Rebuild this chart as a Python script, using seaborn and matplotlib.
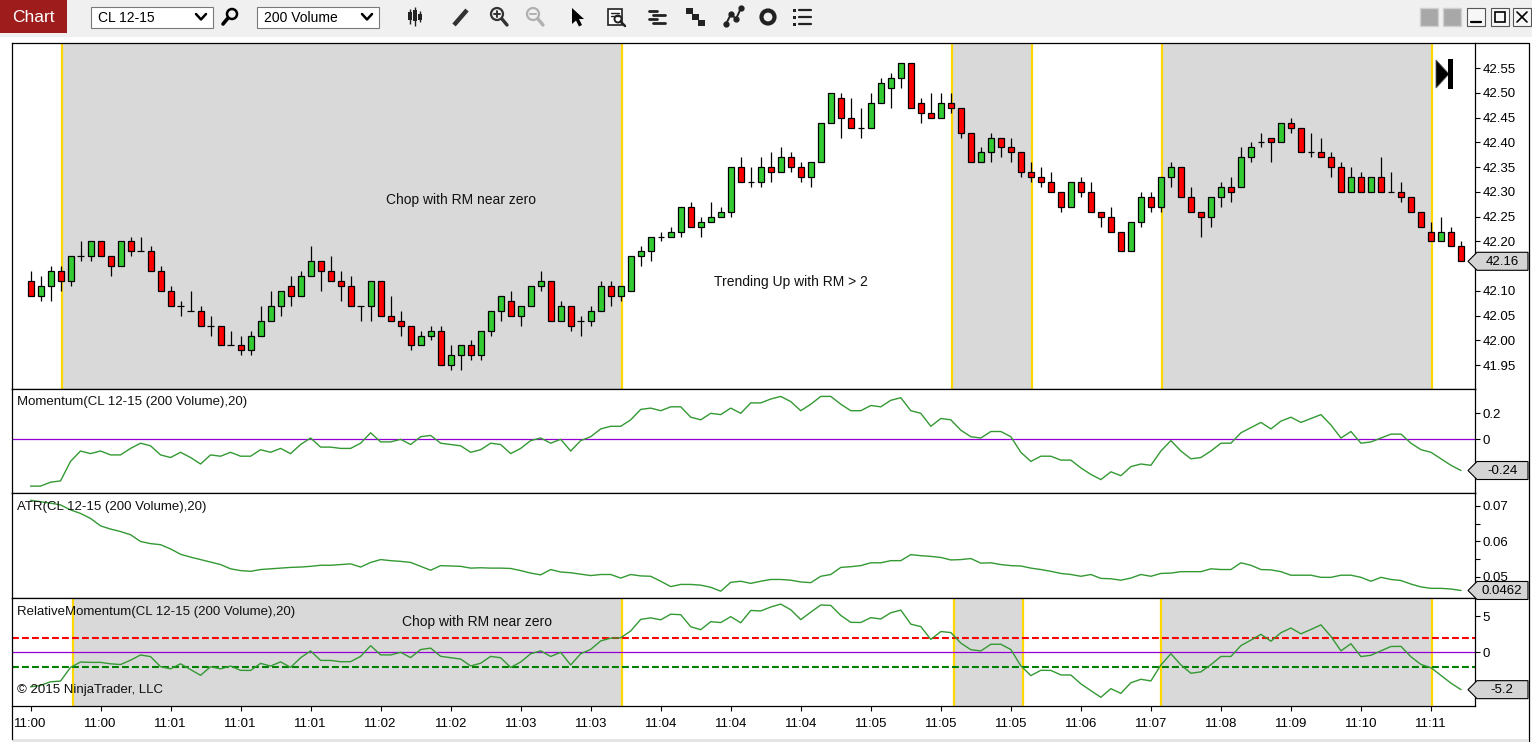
import numpy as np
import pandas as pd
import matplotlib.pyplot as plt
import seaborn as sns
from matplotlib.patches import Rectangle, Polygon, Circle

# CL 12-15, 200 volume bars
opens = [42.12, 42.09, 42.11, 42.14, 42.12, 42.17, 42.17, 42.20, 42.17, 42.15,
         42.20, 42.18, 42.18, 42.14, 42.10, 42.07, 42.06, 42.06, 42.03, 42.03,
         41.99, 41.99, 41.98, 42.01, 42.04, 42.07, 42.11, 42.09, 42.13, 42.16,
         42.14, 42.12, 42.11, 42.07, 42.07, 42.12, 42.05, 42.04, 42.03, 41.99,
         42.01, 42.02, 41.95, 41.97, 41.99, 41.97, 42.02, 42.06, 42.08, 42.05,
         42.07, 42.11, 42.12, 42.04, 42.07, 42.04, 42.04, 42.06, 42.11, 42.09,
         42.10, 42.17, 42.18, 42.21, 42.21, 42.22, 42.27, 42.23, 42.24, 42.25,
         42.26, 42.35, 42.32, 42.32, 42.35, 42.34, 42.37, 42.35, 42.33, 42.36,
         42.44, 42.49, 42.45, 42.43, 42.43, 42.48, 42.51, 42.53, 42.56, 42.48,
         42.46, 42.45, 42.48, 42.47, 42.42, 42.36, 42.38, 42.41, 42.39, 42.38,
         42.34, 42.33, 42.32, 42.30, 42.27, 42.32, 42.30, 42.26, 42.25, 42.22,
         42.18, 42.24, 42.29, 42.27, 42.33, 42.35, 42.29, 42.26, 42.25, 42.29,
         42.31, 42.31, 42.37, 42.40, 42.41, 42.40, 42.44, 42.43, 42.38, 42.38,
         42.37, 42.35, 42.30, 42.33, 42.30, 42.33, 42.30, 42.30, 42.29, 42.26,
         42.22, 42.20, 42.22, 42.19]
highs = [42.14, 42.13, 42.15, 42.15, 42.17, 42.20, 42.20, 42.20, 42.17, 42.20,
         42.21, 42.21, 42.19, 42.15, 42.11, 42.08, 42.10, 42.07, 42.05, 42.03,
         42.02, 42.01, 42.02, 42.07, 42.10, 42.10, 42.13, 42.14, 42.19, 42.16,
         42.17, 42.14, 42.13, 42.07, 42.12, 42.12, 42.09, 42.06, 42.03, 42.02,
         42.03, 42.03, 41.99, 41.99, 42.00, 42.02, 42.06, 42.09, 42.10, 42.07,
         42.11, 42.14, 42.12, 42.08, 42.07, 42.05, 42.07, 42.12, 42.12, 42.11,
         42.17, 42.19, 42.21, 42.22, 42.23, 42.27, 42.28, 42.25, 42.28, 42.27,
         42.35, 42.37, 42.35, 42.37, 42.38, 42.39, 42.38, 42.36, 42.36, 42.44,
         42.50, 42.50, 42.49, 42.47, 42.50, 42.53, 42.54, 42.56, 42.56, 42.49,
         42.50, 42.50, 42.50, 42.47, 42.42, 42.39, 42.42, 42.41, 42.41, 42.38,
         42.36, 42.35, 42.34, 42.30, 42.32, 42.33, 42.32, 42.26, 42.27, 42.22,
         42.24, 42.30, 42.30, 42.33, 42.36, 42.35, 42.31, 42.26, 42.29, 42.32,
         42.33, 42.39, 42.40, 42.42, 42.41, 42.44, 42.45, 42.43, 42.42, 42.41,
         42.38, 42.36, 42.35, 42.34, 42.33, 42.37, 42.34, 42.32, 42.29, 42.26,
         42.24, 42.25, 42.23, 42.20]
lows = [42.09, 42.08, 42.08, 42.10, 42.11, 42.16, 42.16, 42.17, 42.13, 42.15,
        42.17, 42.18, 42.14, 42.10, 42.07, 42.05, 42.06, 42.03, 42.01, 41.99,
        41.99, 41.97, 41.97, 42.01, 42.04, 42.05, 42.07, 42.09, 42.13, 42.10,
        42.12, 42.08, 42.07, 42.04, 42.04, 42.05, 42.04, 42.01, 41.98, 41.99,
        42.00, 41.95, 41.94, 41.94, 41.96, 41.96, 42.01, 42.04, 42.05, 42.03,
        42.07, 42.10, 42.04, 42.04, 42.02, 42.01, 42.03, 42.06, 42.07, 42.08,
        42.10, 42.15, 42.16, 42.20, 42.21, 42.21, 42.23, 42.21, 42.24, 42.25,
        42.25, 42.32, 42.31, 42.31, 42.32, 42.34, 42.34, 42.32, 42.31, 42.36,
        42.44, 42.41, 42.43, 42.41, 42.43, 42.48, 42.47, 42.51, 42.47, 42.44,
        42.45, 42.45, 42.46, 42.41, 42.36, 42.36, 42.36, 42.37, 42.36, 42.33,
        42.32, 42.31, 42.30, 42.26, 42.27, 42.29, 42.26, 42.23, 42.22, 42.18,
        42.18, 42.23, 42.26, 42.26, 42.31, 42.29, 42.26, 42.21, 42.23, 42.27,
        42.28, 42.31, 42.36, 42.39, 42.36, 42.40, 42.42, 42.38, 42.37, 42.37,
        42.33, 42.30, 42.30, 42.30, 42.30, 42.30, 42.30, 42.28, 42.26, 42.23,
        42.20, 42.20, 42.19, 42.16]
closes = [42.09, 42.11, 42.14, 42.12, 42.17, 42.17, 42.20, 42.17, 42.15, 42.20,
          42.18, 42.18, 42.14, 42.10, 42.07, 42.07, 42.06, 42.03, 42.03, 41.99,
          41.99, 41.98, 42.01, 42.04, 42.07, 42.10, 42.09, 42.13, 42.16, 42.14,
          42.12, 42.11, 42.07, 42.07, 42.12, 42.05, 42.04, 42.03, 41.99, 42.01,
          42.02, 41.95, 41.97, 41.99, 41.97, 42.02, 42.06, 42.09, 42.05, 42.07,
          42.11, 42.12, 42.04, 42.07, 42.03, 42.04, 42.06, 42.11, 42.09, 42.11,
          42.17, 42.18, 42.21, 42.21, 42.22, 42.27, 42.23, 42.24, 42.25, 42.26,
          42.35, 42.32, 42.32, 42.35, 42.34, 42.37, 42.35, 42.33, 42.36, 42.44,
          42.50, 42.45, 42.43, 42.43, 42.48, 42.52, 42.53, 42.56, 42.47, 42.46,
          42.45, 42.48, 42.47, 42.42, 42.36, 42.38, 42.41, 42.39, 42.38, 42.34,
          42.33, 42.32, 42.30, 42.27, 42.32, 42.30, 42.26, 42.25, 42.22, 42.18,
          42.24, 42.29, 42.27, 42.33, 42.35, 42.29, 42.26, 42.25, 42.29, 42.31,
          42.30, 42.37, 42.39, 42.40, 42.40, 42.44, 42.43, 42.38, 42.38, 42.37,
          42.35, 42.30, 42.33, 42.30, 42.33, 42.30, 42.30, 42.29, 42.26, 42.23,
          42.20, 42.22, 42.19, 42.16]

momentum = [-0.36, -0.36, -0.33, -0.32, -0.17, -0.09, -0.11, -0.09, -0.12, -0.12,
            -0.07, -0.03, -0.05, -0.12, -0.14, -0.10, -0.14, -0.19, -0.12, -0.13,
            -0.10, -0.13, -0.13, -0.08, -0.10, -0.07, -0.11, -0.04, 0.01, -0.06,
            -0.06, -0.07, -0.07, -0.03, 0.05, -0.02, -0.02, 0.00, -0.04, 0.02,
            0.03, -0.03, -0.04, -0.05, -0.10, -0.08, -0.03, -0.04, -0.11, -0.07,
            -0.01, 0.01, -0.03, 0.00, -0.09, -0.01, 0.02, 0.08, 0.10, 0.10,
            0.15, 0.23, 0.24, 0.22, 0.25, 0.25, 0.17, 0.15, 0.20, 0.19,
            0.24, 0.20, 0.28, 0.28, 0.31, 0.33, 0.29, 0.22, 0.27, 0.33,
            0.33, 0.27, 0.22, 0.22, 0.26, 0.25, 0.30, 0.32, 0.22, 0.20,
            0.10, 0.16, 0.15, 0.07, 0.02, 0.01, 0.06, 0.06, 0.02, -0.10,
            -0.17, -0.13, -0.13, -0.16, -0.16, -0.22, -0.27, -0.31, -0.25, -0.28,
            -0.21, -0.19, -0.20, -0.09, -0.01, -0.09, -0.15, -0.14, -0.09, -0.03,
            -0.03, 0.05, 0.09, 0.13, 0.08, 0.14, 0.17, 0.13, 0.16, 0.19,
            0.11, 0.01, 0.06, -0.03, -0.02, 0.01, 0.04, 0.04, -0.03, -0.08,
            -0.10, -0.15, -0.20, -0.24]

atr = [0.0716, 0.0712, 0.0708, 0.0703, 0.0689, 0.0679, 0.0665, 0.0644, 0.0635, 0.0628,
       0.0619, 0.0600, 0.0594, 0.0591, 0.0579, 0.0564, 0.0556, 0.0549, 0.0542, 0.0535,
       0.0523, 0.0518, 0.0516, 0.0521, 0.0523, 0.0525, 0.0527, 0.0528, 0.0530, 0.0533,
       0.0533, 0.0535, 0.0537, 0.0528, 0.0541, 0.0549, 0.0546, 0.0544, 0.0541, 0.0530,
       0.0519, 0.0532, 0.0531, 0.0530, 0.0525, 0.0526, 0.0525, 0.0525, 0.0524, 0.0518,
       0.0511, 0.0506, 0.0521, 0.0514, 0.0512, 0.0508, 0.0504, 0.0507, 0.0507, 0.0497,
       0.0507, 0.0503, 0.0502, 0.0488, 0.0473, 0.0479, 0.0479, 0.0477, 0.0471, 0.0460,
       0.0485, 0.0488, 0.0482, 0.0488, 0.0493, 0.0493, 0.0491, 0.0486, 0.0484, 0.0502,
       0.0507, 0.0527, 0.0529, 0.0532, 0.0540, 0.0540, 0.0546, 0.0546, 0.0563, 0.0560,
       0.0558, 0.0555, 0.0548, 0.0549, 0.0552, 0.0539, 0.0540, 0.0535, 0.0532, 0.0531,
       0.0525, 0.0521, 0.0516, 0.0510, 0.0507, 0.0502, 0.0507, 0.0496, 0.0495, 0.0491,
       0.0497, 0.0507, 0.0502, 0.0510, 0.0511, 0.0515, 0.0515, 0.0515, 0.0523, 0.0521,
       0.0521, 0.0540, 0.0533, 0.0521, 0.0520, 0.0515, 0.0505, 0.0505, 0.0505, 0.0499,
       0.0499, 0.0505, 0.0505, 0.0499, 0.0488, 0.0499, 0.0493, 0.0490, 0.0480, 0.0472,
       0.0468, 0.0468, 0.0466, 0.0462]

rel_mom = [-4.8, -4.6, -4.1, -4.0, -2.1, -1.35, -1.4, -1.4, -1.6, -1.7,
           -1.1, -0.37, -0.6, -2.0, -2.3, -1.6, -2.4, -3.2, -2.0, -2.3,
           -1.91, -2.51, -2.52, -1.54, -1.91, -1.33, -2.09, -0.76, 0.19, -1.13,
           -1.13, -1.31, -1.30, -0.57, 0.92, -0.36, -0.37, 0.00, -0.74, 0.38,
           0.58, -0.56, -0.75, -0.94, -1.90, -1.52, -0.57, -0.76, -2.10, -1.35,
           -0.20, 0.20, -0.58, 0.00, -1.76, -0.20, 0.40, 1.58, 1.97, 2.01,
           2.96, 4.57, 4.78, 4.51, 5.29, 5.22, 3.55, 3.14, 4.25, 4.13,
           4.95, 4.10, 5.81, 5.74, 6.29, 6.69, 5.91, 4.53, 5.58, 6.57,
           6.51, 5.12, 4.16, 4.14, 4.81, 4.63, 5.49, 5.86, 3.91, 3.57,
           1.79, 2.88, 2.74, 1.28, 0.36, 0.19, 1.11, 1.12, 0.38, -1.88,
           -3.24, -2.50, -2.52, -3.14, -3.16, -4.38, -5.33, -6.25, -5.05, -5.70,
           -4.23, -3.75, -3.98, -1.76, -0.20, -1.75, -2.91, -2.72, -1.72, -0.58,
           -0.58, 0.93, 1.69, 2.50, 1.54, 2.72, 3.37, 2.57, 3.17, 3.81,
           2.20, 0.20, 1.19, -0.60, -0.41, 0.20, 0.81, 0.82, -0.63, -1.69,
           -2.14, -3.21, -4.29, -5.19]

time_tick_bars = [0, 7, 14, 21, 28, 35, 42, 49, 56, 63, 70, 77, 84, 91, 98,
                  105, 112, 119, 126, 133, 140]
time_tick_labels = ["11:00", "11:00", "11:01", "11:01", "11:01", "11:02", "11:02",
                    "11:03", "11:03", "11:04", "11:04", "11:04", "11:05", "11:05",
                    "11:05", "11:06", "11:07", "11:08", "11:09", "11:10", "11:11"]
price_ticks = [41.95, 42.00, 42.05, 42.10, 42.15, 42.20, 42.25, 42.30,
               42.35, 42.40, 42.45, 42.50, 42.55]

# shaded regions (bar positions)
price_zones = [(3.1, 59.1), (92.1, 100.1), (113.1, 140.1)]
rm_zones = [(4.2, 59.1), (92.3, 99.2), (113.0, 140.1)]

W, H = 1532, 742
GRAY = '#d9d9d9'
GOLD = '#ffd700'
LINE_GREEN = '#339933'
PURPLE = '#9400d3'

sns.set_theme(style="white")
plt.rcParams['font.family'] = ['Liberation Sans', 'DejaVu Sans']

df = pd.DataFrame({'bar': np.arange(len(closes)), 'open': opens, 'high': highs,
                   'low': lows, 'close': closes, 'momentum': momentum,
                   'atr': atr, 'rm': rel_mom})

fig = plt.figure(figsize=(W / 100, H / 100), dpi=100)
fig.patch.set_facecolor('white')


def px_axes(x0, y0, x1, y1):
    return fig.add_axes([x0 / W, 1 - y1 / H, (x1 - x0) / W, (y1 - y0) / H])


ax_p = px_axes(11.5, 43, 1475, 389)
ax_m = px_axes(11.5, 389, 1475, 493)
ax_a = px_axes(11.5, 493, 1475, 598)
ax_r = px_axes(11.5, 598, 1475, 706)
panels = [ax_p, ax_m, ax_a, ax_r]

# ---- price panel
for a, b in price_zones:
    ax_p.axvspan(a, b, color=GRAY, lw=0, zorder=0)
    ax_p.axvline(a, color=GOLD, lw=1.6, zorder=1)
    ax_p.axvline(b, color=GOLD, lw=1.6, zorder=1)

o = df['open'].to_numpy()
c = df['close'].to_numpy()
x = df['bar'].to_numpy()
up = c > o + 1e-9
dn = c < o - 1e-9
flat = ~(up | dn)
ax_p.vlines(x, df['low'], df['high'], color='black', lw=0.9, zorder=3)
ax_p.bar(x[up], (c - o)[up], bottom=o[up], width=0.6, color='#33cc33',
         edgecolor='black', linewidth=0.9, zorder=4)
ax_p.bar(x[dn], (o - c)[dn], bottom=c[dn], width=0.6, color='#ff0000',
         edgecolor='black', linewidth=0.9, zorder=4)
ax_p.hlines(c[flat], x[flat] - 0.32, x[flat] + 0.32, color='black', lw=0.9, zorder=4)
ax_p.set_ylim(41.902, 42.601)
ax_p.set_yticks(price_ticks)
# the 42.15 label sits under the last-price box, as in the platform
ax_p.set_yticklabels(["" if abs(t - 42.15) < 1e-6 else f"{t:.2f}" for t in price_ticks])

# ---- momentum panel
ax_m.axhline(0, color=PURPLE, lw=0.9, zorder=1)
sns.lineplot(data=df, x='bar', y='momentum', ax=ax_m, color=LINE_GREEN,
             linewidth=1.0, legend=False, zorder=3)
ax_m.set_ylim(-0.413, 0.387)
ax_m.set_yticks([-0.2, 0, 0.2])
ax_m.set_yticklabels(['', '0', '0.2'])

# ---- ATR panel
sns.lineplot(data=df, x='bar', y='atr', ax=ax_a, color=LINE_GREEN,
             linewidth=1.0, legend=False, zorder=3)
ax_a.set_ylim(0.04408, 0.07366)
ax_a.set_yticks([0.05, 0.06, 0.07])
ax_a.set_yticklabels(['0.05', '0.06', '0.07'])
ax_a.set_yticks([0.055, 0.065], minor=True)

# ---- relative momentum panel
for a, b in rm_zones:
    ax_r.axvspan(a, b, color=GRAY, lw=0, zorder=0)
    ax_r.axvline(a, color=GOLD, lw=1.6, zorder=1)
    ax_r.axvline(b, color=GOLD, lw=1.6, zorder=1)
ax_r.axhline(2, color='#ff0000', lw=1.5, ls=(0, (3.3, 1.5)), zorder=2)
ax_r.axhline(-2, color='#008000', lw=1.5, ls=(0, (3.3, 1.5)), zorder=2)
ax_r.axhline(0, color=PURPLE, lw=0.9, zorder=2)
sns.lineplot(data=df, x='bar', y='rm', ax=ax_r, color=LINE_GREEN,
             linewidth=1.0, legend=False, zorder=3)
ax_r.set_ylim(-7.46, 7.54)
ax_r.set_yticks([-5, 0, 5])
ax_r.set_yticklabels(['', '0', '5'])

for ax in panels:
    ax.set_facecolor('white')
    ax.set_xlim(-1.9, 144.4)
    ax.set_xlabel('')
    ax.set_ylabel('')
    for s in ax.spines.values():
        s.set_color('black')
        s.set_linewidth(0.9)
    ax.yaxis.tick_right()
    ax.tick_params(axis='y', which='both', direction='out', length=3.6, width=0.8,
                   pad=2, labelsize=9.5, colors='black', left=False, right=True)
    ax.tick_params(axis='y', which='minor', length=3.6)
    if ax is not ax_r:
        ax.set_xticks([])

ax_r.set_xticks(time_tick_bars)
ax_r.set_xticklabels(time_tick_labels)
ax_r.tick_params(axis='x', direction='out', length=3.6, width=0.8, pad=5,
                 labelsize=9.5, colors='black', bottom=True)

# ---- overlay in pixel coordinates for the window chrome and labels
ov = fig.add_axes([0, 0, 1, 1], zorder=10)
ov.set_xlim(0, W)
ov.set_ylim(H, 0)
ov.axis('off')
ov.patch.set_visible(False)

# toolbar
ov.add_patch(Rectangle((0, 0), W, 37, facecolor='#f0f0f0', edgecolor='none'))
ov.add_patch(Rectangle((0, 0), 67, 33, facecolor='#9e1c1c', edgecolor='none'))
ov.text(33.5, 17, 'Chart', color='white', fontsize=12.5, ha='center', va='center')
for bx, label in [(91, 'CL 12-15'), (257, '200 Volume')]:
    ov.add_patch(Rectangle((bx, 7), 122, 21, facecolor='white', edgecolor='#7a7a7a', lw=0.8))
    ov.text(bx + 7, 17.5, label, fontsize=10, va='center', color='black')
    ov.plot([bx + 105, bx + 110, bx + 115], [14, 19.5, 14], color='black', lw=1.8)
ov.add_patch(Circle((232, 14), 5, fill=False, ec='black', lw=1.8))
ov.plot([228, 223], [18, 24], color='black', lw=2.6, solid_capstyle='round')

# simplified tool icons
ov.vlines([410, 415, 420], [9, 7, 11], [24, 26, 22], color='#222222', lw=1)
for ix, y0, hh in [(410, 12, 8), (415, 10, 11), (420, 14, 6)]:
    ov.add_patch(Rectangle((ix - 1.8, y0), 3.6, hh, facecolor='#222222', edgecolor='none'))
ov.plot([454, 467], [25, 10], color='#333333', lw=3.2, solid_capstyle='butt')
ov.add_patch(Circle((497, 14), 6, fill=False, ec='#333333', lw=1.6))
ov.plot([494, 500], [14, 14], color='#333333', lw=1.4)
ov.plot([497, 497], [11, 17], color='#333333', lw=1.4)
ov.plot([502, 507], [19, 25], color='#333333', lw=2.4)
ov.add_patch(Circle((533, 14), 6, fill=False, ec='#b0b0b0', lw=1.6))
ov.plot([530, 536], [14, 14], color='#b0b0b0', lw=1.4)
ov.plot([538, 543], [19, 25], color='#b0b0b0', lw=2.4)
ov.add_patch(Polygon([(572, 8), (572, 24), (576, 20.5), (579, 26.5), (582, 25),
                      (579, 19), (584, 19)], closed=True, facecolor='black', edgecolor='none'))
ov.add_patch(Rectangle((608, 9), 14, 16, facecolor='white', edgecolor='#222222', lw=1.2))
ov.plot([611, 619], [13, 13], color='#222222', lw=1)
ov.plot([611, 619], [16, 16], color='#222222', lw=1)
ov.add_patch(Circle((618, 19), 3.5, fill=False, ec='#222222', lw=1.4))
ov.plot([620.5, 625], [21.5, 26], color='#222222', lw=1.8)
for yy, x0, x1 in [(11, 649, 657), (15, 653, 665), (19, 649, 657), (23, 653, 665)]:
    ov.plot([x0, x1], [yy, yy], color='#222222', lw=2)
for sx, sy in [(686, 8), (692, 14), (698, 20)]:
    ov.add_patch(Rectangle((sx, sy), 7, 6, facecolor='#222222', edgecolor='none'))
ov.plot([726, 731, 736, 741], [24, 14, 19, 8], color='#222222', lw=1.4,
        marker='o', markersize=3.5)
ov.add_patch(Circle((768, 17), 6.5, fill=False, ec='#222222', lw=3))
for yy in [10, 17, 24]:
    ov.add_patch(Rectangle((793, yy - 1.5), 3, 3, facecolor='#222222', edgecolor='none'))
    ov.plot([799, 811], [yy, yy], color='#222222', lw=1.6)

# window buttons
for bx in [1420, 1443]:
    ov.add_patch(Rectangle((bx, 8), 18, 18, facecolor='#a8a8a8', edgecolor='#d0d0d0', lw=1))
for bx in [1467, 1491, 1513]:
    ov.add_patch(Rectangle((bx, 8), 18, 18, facecolor='#f7f7f7', edgecolor='#555555', lw=0.8))
ov.plot([1471, 1481], [22, 22], color='black', lw=1.6)
ov.add_patch(Rectangle((1495, 12), 10, 10, fill=False, edgecolor='black', lw=1.2))
ov.plot([1517, 1527], [12, 22], color='black', lw=1.2)
ov.plot([1517, 1527], [22, 12], color='black', lw=1.2)

# frame around the chart
ov.plot([1475, 1528.5, 1528.5], [43, 43, 742], color='black', lw=0.9)
ov.plot([11.5, 11.5], [706, 739], color='black', lw=0.9)
ov.add_patch(Rectangle((12, 739), 1516, 3, facecolor='#e4e4e4', edgecolor='none'))

# end-of-data marker
ov.add_patch(Polygon([(1436, 60), (1436, 88), (1449, 74)], closed=True,
                     facecolor='black', edgecolor='#555555', lw=0.6))
ov.add_patch(Rectangle((1448, 59), 5, 30, facecolor='black', edgecolor='none'))

# labels and notes
ov.text(461, 200, 'Chop with RM near zero', fontsize=10, ha='center', va='center', color='#111111')
ov.text(791, 282, 'Trending Up with RM > 2', fontsize=10, ha='center', va='center', color='#111111')
ov.text(477, 622, 'Chop with RM near zero', fontsize=10, ha='center', va='center', color='#111111')
ov.text(17, 402.5, 'Momentum(CL 12-15 (200 Volume),20)', fontsize=9.5, va='center', color='#111111')
ov.text(17, 507, 'ATR(CL 12-15 (200 Volume),20)', fontsize=9.5, va='center', color='#111111')
ov.text(17, 611.5, 'RelativeMomentum(CL 12-15 (200 Volume),20)', fontsize=9.5, va='center',
        color='#111111')
ov.text(17, 690, '\u00a9 2015 NinjaTrader, LLC', fontsize=9.5, va='center', color='#111111')


# last-value boxes on the right scale
def value_box(ax, value, text):
    y = H - ax.transData.transform((0, value))[1]
    ov.add_patch(Polygon([(1468, y), (1477, y - 9), (1528, y - 9), (1528, y + 9), (1477, y + 9)],
                         closed=True, facecolor='#d4d4d4', edgecolor='black', lw=0.8))
    ov.text(1502, y + 0.5, text, fontsize=9.5, ha='center', va='center', color='black')


value_box(ax_p, closes[-1], f"{closes[-1]:.2f}")
value_box(ax_m, momentum[-1], f"{momentum[-1]:.2f}")
value_box(ax_a, atr[-1], f"{atr[-1]:.4f}")
value_box(ax_r, rel_mom[-1], f"{rel_mom[-1]:.1f}")

fig.savefig('out.png', dpi=100)
